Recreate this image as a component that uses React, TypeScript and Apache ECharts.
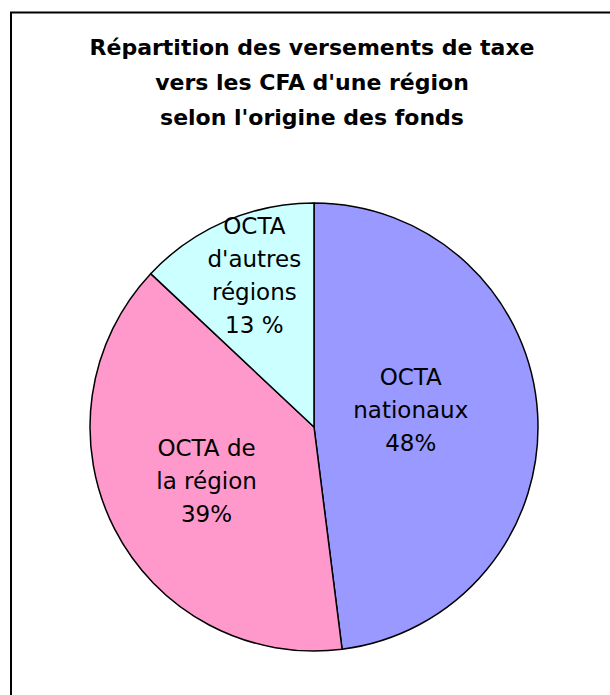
import React, { useEffect, useRef } from "react";
import * as echarts from "echarts";

const titleLines = [
  "Répartition des versements de taxe",
  "vers les CFA d'une région",
  "selon l'origine des fonds",
];
const categories = ["OCTA nationaux", "OCTA de la région", "OCTA d'autres régions"];
const values = [48, 39, 13];
const labelTexts = [
  "OCTA\nnationaux\n48%",
  "OCTA de\nla région\n39%",
  "OCTA\nd'autres\nrégions\n13 %",
];
const colors = ["#9999FF", "#FF99CC", "#CCFFFF"];
const labelShift = [
  [-18, -10],
  [-5, 2],
  [-14, -46],
];

export default function App() {
  const ref = useRef<HTMLDivElement>(null);
  useEffect(() => {
    if (!ref.current) return;
    const chart = echarts.init(ref.current, null, { renderer: "svg" });
    chart.setOption({
      animation: false,
      backgroundColor: "#ffffff",
      title: {
        text: titleLines.join("\n"),
        left: 312,
        top: 29.5,
        padding: 0,
        textAlign: "center",
        textStyle: {
          fontFamily: "DejaVu Sans",
          fontWeight: "bold",
          fontSize: 22,
          lineHeight: 35,
          color: "#000000",
        },
      },
      graphic: [
        {
          type: "polyline",
          shape: { points: [[11, 695], [11, 12.5], [610, 12.5]] },
          style: { stroke: "#000000", lineWidth: 2, fill: null },
          silent: true,
        },
      ],
      series: [
        {
          type: "pie",
          center: [314, 427],
          radius: 224,
          startAngle: 90,
          clockwise: true,
          label: {
            show: true,
            position: "inside",
            fontFamily: "DejaVu Sans",
            fontSize: 23,
            lineHeight: 33,
            color: "#000000",
            align: "center",
            formatter: (p: any) => labelTexts[p.dataIndex],
          },
          labelLine: { show: false },
          labelLayout: (p: any) => ({
            dx: labelShift[p.dataIndex][0],
            dy: labelShift[p.dataIndex][1],
          }),
          itemStyle: { borderColor: "#000000", borderWidth: 1.5 },
          emphasis: { disabled: true },
          data: categories.map((c, i) => ({
            name: c,
            value: values[i],
            itemStyle: { color: colors[i] },
          })),
        },
      ],
    });
    return () => chart.dispose();
  }, []);
  return (
    <div
      ref={ref}
      style={{ position: "fixed", left: 0, top: 0, width: 610, height: 695 }}
    />
  );
}
